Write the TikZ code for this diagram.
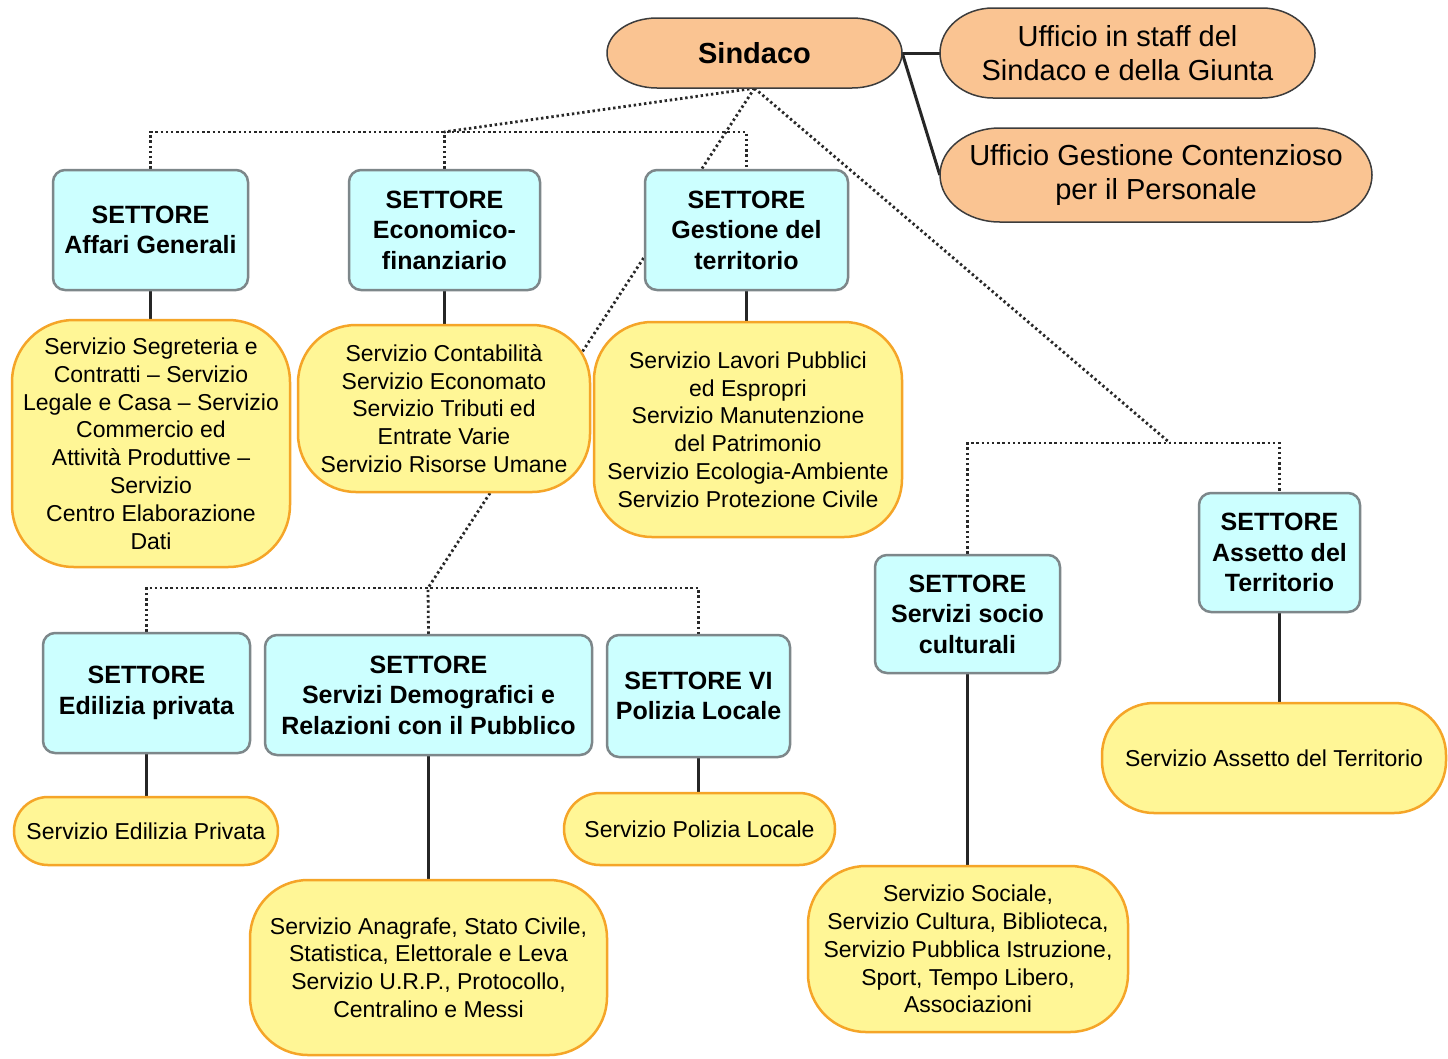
\documentclass[tikz,border=0pt]{standalone}
\usepackage{fontspec}
\setmainfont{Liberation Sans}
\definecolor{cyanfill}{RGB}{204,255,255}
\definecolor{boxgray}{RGB}{125,135,138}
\definecolor{yellowfill}{RGB}{255,246,150}
\definecolor{orangeline}{RGB}{245,165,40}
\definecolor{peach}{RGB}{250,196,146}
\definecolor{darkline}{RGB}{60,60,60}
\definecolor{dotgray}{RGB}{40,40,40}
\pgfdeclarelayer{bg}
\pgfsetlayers{bg,main}
\begin{document}
\begin{tikzpicture}[x=1pt,y=-1pt,
  sector/.style={draw=boxgray, line width=2.5pt, fill=cyanfill, rounded corners=12pt,
    align=center, inner sep=0pt, font=\fontsize{25}{30.5}\bfseries\selectfont},
  serv/.style={draw=orangeline, line width=2.5pt, fill=yellowfill, align=center,
    inner sep=0pt, font=\fontsize{23}{27.8}\selectfont},
  head/.style={draw=none, align=center, inner sep=0pt},
  headshape/.style={draw=darkline, line width=1.5pt, fill=peach},
  dots/.style={line width=2.8pt, dash pattern=on 2.4pt off 2.8pt, draw=dotgray},
  link/.style={line width=3pt, draw=black!85}]
\useasboundingbox (0,0) rectangle (1448,1058);

% top level
\node[head, minimum width=295pt, minimum height=70pt,
  font=\fontsize{29}{34}\bfseries\selectfont] (sindaco) at (754.5,53) {Sindaco};
\node[head, minimum width=375pt, minimum height=90pt,
  font=\fontsize{29}{34.5}\selectfont] (staff) at (1127.5,53) {Ufficio in staff del\\Sindaco e della Giunta};
\node[head, minimum width=432pt, minimum height=94pt,
  font=\fontsize{29}{34.5}\selectfont] (cont) at (1156,175) {Ufficio Gestione Contenzioso\\per il Personale};

% sectors
\node[sector, minimum width=195pt, minimum height=120pt] (aff) at (150.5,230) {SETTORE\\Affari Generali};
\node[sector, minimum width=191pt, minimum height=120pt] (eco) at (444.5,230) {SETTORE\\Economico-\\finanziario};
\node[sector, minimum width=203pt, minimum height=120pt] (gest) at (746.5,230) {SETTORE\\Gestione del\\territorio};
\node[sector, minimum width=207pt, minimum height=120pt] (edil) at (146.5,693) {SETTORE\\Edilizia privata};
\node[sector, minimum width=327pt, minimum height=120pt] (demo) at (428.5,695) {SETTORE\\Servizi Demografici e\\Relazioni con il Pubblico};
\node[sector, minimum width=183pt, minimum height=122pt] (polz) at (698.5,696) {SETTORE VI\\Polizia Locale};
\node[sector, minimum width=185pt, minimum height=118pt] (socio) at (967.5,614) {SETTORE\\Servizi socio\\culturali};
\node[sector, minimum width=161pt, minimum height=119pt] (asset) at (1279.5,552.5) {SETTORE\\Assetto del\\Territorio};

% services
\node[serv, minimum width=278pt, minimum height=247pt, rounded corners=62pt] (affs) at (151,443.5)
  {Servizio Segreteria e\\Contratti -- Servizio\\Legale e Casa -- Servizio\\Commercio ed\\Attività Produttive --\\Servizio\\Centro Elaborazione\\Dati};
\node[serv, minimum width=292pt, minimum height=167pt, rounded corners=58pt] (ecos) at (444,408.5)
  {Servizio Contabilità\\Servizio Economato\\Servizio Tributi ed\\Entrate Varie\\Servizio Risorse Umane};
\node[serv, minimum width=308pt, minimum height=215pt, rounded corners=58pt] (gests) at (748,429.5)
  {Servizio Lavori Pubblici\\ed Espropri\\Servizio Manutenzione\\del Patrimonio\\Servizio Ecologia-Ambiente\\Servizio Protezione Civile};
\node[serv, minimum width=264pt, minimum height=68pt, rounded corners=34pt] (edils) at (146,831)
  {Servizio Edilizia Privata};
\node[serv, minimum width=357pt, minimum height=175pt, rounded corners=58pt] (demos) at (428.5,967.5)
  {Servizio Anagrafe, Stato Civile,\\Statistica, Elettorale e Leva\\Servizio U.R.P., Protocollo,\\Centralino e Messi};
\node[serv, minimum width=271pt, minimum height=72pt, rounded corners=36pt] (polzs) at (699.5,829)
  {Servizio Polizia Locale};
\node[serv, minimum width=320pt, minimum height=166pt, rounded corners=58pt] (socios) at (968,949)
  {Servizio Sociale,\\Servizio Cultura, Biblioteca,\\Servizio Pubblica Istruzione,\\Sport, Tempo Libero,\\Associazioni};
\node[serv, minimum width=344pt, minimum height=110pt, rounded corners=52pt] (assets) at (1274,758)
  {Servizio Assetto del Territorio};

% junctions
\coordinate (j1) at (444,132);
\coordinate (j2) at (1170,443);
\coordinate (j3) at (428,588);

\begin{pgfonlayer}{bg}
  \fill[white] (0,0) rectangle (1448,1058);
  % dotted hierarchy
  \draw[dots] (sindaco.south) -- (j1);
  \draw[dots] (aff.north) |- (j1) -| (gest.north);
  \draw[dots] (eco.north) -- (eco.north |- j1);
  \draw[dots] (sindaco.south) -- (j3);
  \draw[dots] (edil.north) |- (j3) -| (polz.north);
  \draw[dots] (demo.north) -- (j3);
  \draw[dots] (sindaco.south) -- (j2);
  \draw[dots] (socio.north) |- (j2) -| (asset.north);
  % solid links
  \draw[link] (sindaco.east) -- (staff.west);
  \draw[link] (sindaco.east) -- (cont.west);
  \draw[link] (aff.south) -- (aff.south |- affs.north);
  \draw[link] (eco.south) -- (eco.south |- ecos.north);
  \draw[link] (gest.south) -- (gest.south |- gests.north);
  \draw[link] (edil.south) -- (edil.south |- edils.north);
  \draw[link] (demo.south) -- (demo.south |- demos.north);
  \draw[link] (polz.south) -- (polz.south |- polzs.north);
  \draw[link] (socio.south) -- (socio.south |- socios.north);
  \draw[link] (asset.south) -- (asset.south |- assets.north);
  % orange capsule outlines (elliptical ends)
  \draw[headshape] (657,18) -- (852,18) arc[start angle=-90, end angle=90, x radius=50, y radius=35]
    -- (657,88) arc[start angle=90, end angle=270, x radius=50, y radius=35] -- cycle;
  \draw[headshape] (993,8) -- (1262,8) arc[start angle=-90, end angle=90, x radius=53, y radius=45]
    -- (993,98) arc[start angle=90, end angle=270, x radius=53, y radius=45] -- cycle;
  \draw[headshape] (1000,128) -- (1312,128) arc[start angle=-90, end angle=90, x radius=60, y radius=47]
    -- (1000,222) arc[start angle=90, end angle=270, x radius=60, y radius=47] -- cycle;
\end{pgfonlayer}
\end{tikzpicture}
\end{document}
